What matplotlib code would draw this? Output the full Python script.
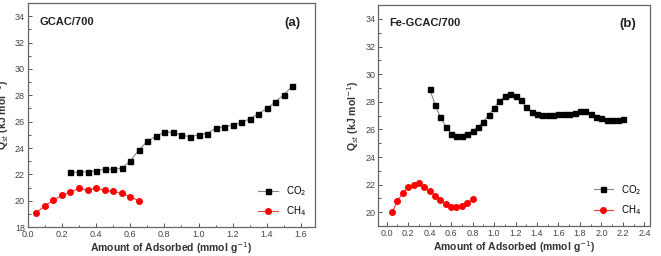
import matplotlib.pyplot as plt
import numpy as np
from matplotlib.ticker import MultipleLocator

plt.rcParams['font.family'] = ['Liberation Sans', 'DejaVu Sans']

# panel (a) GCAC/700
a_co2_x = np.arange(0.25, 1.551, 0.05)
a_co2_y = [22.15, 22.15, 22.2, 22.25, 22.4, 22.4, 22.45, 23.0, 23.85, 24.5, 24.9,
           25.2, 25.2, 25.0, 24.85, 25.0, 25.1, 25.5, 25.6, 25.75, 25.95, 26.2,
           26.6, 27.0, 27.5, 28.05, 28.7]
a_ch4_x = np.arange(0.05, 0.651, 0.05)
a_ch4_y = [19.1, 19.6, 20.05, 20.4, 20.65, 20.95, 20.8, 20.95, 20.8, 20.7, 20.55,
           20.3, 20.0]

# panel (b) Fe-GCAC/700
b_co2_x = np.arange(0.4, 2.201, 0.05)
b_co2_y = [28.95, 27.8, 26.9, 26.2, 25.7, 25.5, 25.55, 25.65, 25.9, 26.15, 26.55,
           27.05, 27.55, 28.05, 28.4, 28.55, 28.45, 28.1, 27.6, 27.25, 27.15, 27.05,
           27.05, 27.05, 27.1, 27.15, 27.1, 27.2, 27.3, 27.3, 27.15, 26.9, 26.8,
           26.7, 26.65, 26.65, 26.75]
b_ch4_x = np.arange(0.05, 0.801, 0.05)
b_ch4_y = [20.0, 20.8, 21.4, 21.8, 22.0, 22.15, 21.8, 21.55, 21.2, 20.9, 20.6,
           20.35, 20.35, 20.45, 20.65, 20.95]

fig = plt.figure(figsize=(6.61, 2.56), dpi=100)
ax1 = fig.add_axes([0.042, 0.113, 0.434, 0.875])
ax2 = fig.add_axes([0.572, 0.117, 0.411, 0.863])

panels = [
    (ax1, a_co2_x, a_co2_y, a_ch4_x, a_ch4_y, 'GCAC/700', '(a)', (0, 1.68), (18, 35), 18),
    (ax2, b_co2_x, b_co2_y, b_ch4_x, b_ch4_y, 'Fe-GCAC/700', '(b)', (-0.08, 2.45), (19, 35), 20),
]

for ax, cx, cy, mx, my, name, tag, xl, yl, ystart in panels:
    ax.plot(cx, cy, '-', color='#888888', lw=0.8, marker='s', ms=3.6,
            mfc='black', mec='black', label='CO$_2$')
    ax.plot(mx, my, '-', color='#f04040', lw=0.8, marker='o', ms=4.0,
            mfc='red', mec='red', label='CH$_4$')
    ax.set_xlim(*xl)
    ax.set_ylim(*yl)
    ax.set_yticks(np.arange(ystart, 34.1, 2))
    ax.xaxis.set_major_locator(MultipleLocator(0.2))
    ax.xaxis.set_minor_locator(MultipleLocator(0.1))
    ax.yaxis.set_minor_locator(MultipleLocator(1))
    ax.xaxis.set_major_formatter(plt.FuncFormatter(lambda v, p: f'{v:.1f}'))
    ax.tick_params(which='both', direction='in', labelsize=6.5, colors='#555555',
                   labelcolor='#444444', width=0.7, pad=2)
    ax.tick_params(which='major', length=3)
    ax.tick_params(which='minor', length=1.8)
    for s in ax.spines.values():
        s.set_color('#666666')
        s.set_linewidth(0.9)
    ax.set_xlabel('Amount of Adsorbed (mmol g$^{-1}$)', fontsize=7.5,
                  fontweight='bold', color='#333333', labelpad=1)
    ax.set_ylabel('Q$_{st}$ (kJ mol$^{-1}$)', fontsize=7.5, fontweight='bold',
                  color='#333333', labelpad=3)
    ax.text(0.04, 0.94, name, transform=ax.transAxes, fontsize=8,
            fontweight='bold', va='top', ha='left', color='#222222')
    ax.text(0.95, 0.94, tag, transform=ax.transAxes, fontsize=9.5,
            fontweight='bold', va='top', ha='right', color='#222222')
    ax.legend(loc='lower right', frameon=False, fontsize=7, handlelength=2.0,
              labelspacing=0.7, borderaxespad=0.5)

fig.savefig('out.png', dpi=100)
